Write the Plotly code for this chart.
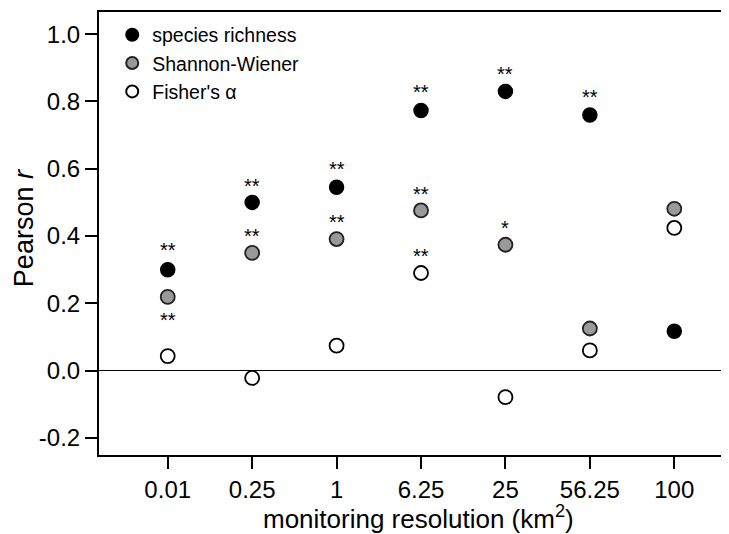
import plotly.graph_objects as go

categories = ["0.01", "0.25", "1", "6.25", "25", "56.25", "100"]
species_richness = [0.30, 0.50, 0.545, 0.773, 0.830, 0.760, 0.117]
shannon_wiener = [0.219, 0.350, 0.391, 0.476, 0.374, 0.125, 0.481]
fishers_alpha = [0.043, -0.022, 0.074, 0.290, -0.079, 0.060, 0.424]

star_x = ["0.01", "0.01", "0.25", "0.25", "1", "1", "6.25", "6.25", "6.25", "25", "25", "56.25"]
star_y = [0.369, 0.161, 0.562, 0.412, 0.612, 0.453, 0.840, 0.538, 0.352, 0.894, 0.437, 0.825]
star_text = ["**", "**", "**", "**", "**", "**", "**", "**", "**", "**", "*", "**"]

FONT = "Liberation Sans, Arial, Helvetica, sans-serif"

fig = go.Figure()
fig.add_trace(go.Scatter(
    x=categories, y=species_richness, mode="markers", name="species richness",
    marker=dict(size=14, color="black", line=dict(color="black", width=1.5)),
))
fig.add_trace(go.Scatter(
    x=categories, y=shannon_wiener, mode="markers", name="Shannon-Wiener",
    marker=dict(size=14, color="#999999", line=dict(color="#222222", width=1.8)),
))
fig.add_trace(go.Scatter(
    x=categories, y=fishers_alpha, mode="markers", name="Fisher's α",
    marker=dict(size=14, color="white", line=dict(color="black", width=1.8)),
))

for sx, sy, st in zip(star_x, star_y, star_text):
    fig.add_annotation(x=categories.index(sx), y=sy, text=st, showarrow=False,
                       yanchor="middle", yshift=-4,
                       font=dict(size=20, color="black", family=FONT))

fig.add_annotation(xref="paper", yref="paper", x=0.507, y=-0.142, xanchor="center",
                   yanchor="middle", showarrow=False, borderpad=0,
                   text="monitoring resolution (km<sup>2</sup>)",
                   font=dict(size=26, color="black", family=FONT))
fig.add_annotation(xref="paper", yref="paper", x=-0.12, y=0.513, xanchor="center",
                   yanchor="middle", showarrow=False, textangle=-90, borderpad=0,
                   text="Pearson <i>r</i>",
                   font=dict(size=27, color="black", family=FONT))

fig.update_layout(
    width=721, height=526,
    margin=dict(l=91, r=0, t=4, b=79, autoexpand=False),
    paper_bgcolor="white", plot_bgcolor="white",
    font=dict(family=FONT, color="black"),
    showlegend=True,
    legend=dict(x=0.021, y=0.992, xanchor="left", yanchor="top",
                font=dict(size=19.5, family=FONT), bgcolor="rgba(0,0,0,0)",
                tracegroupgap=0, itemsizing="constant"),
)
fig.update_xaxes(
    type="category", categoryorder="array", categoryarray=categories,
    range=[-0.814, 6.648], automargin=False,
    showline=True, linecolor="black", linewidth=2, mirror=True,
    ticks="outside", ticklen=12, tickwidth=1.5, tickcolor="black",
    tickfont=dict(size=24), showgrid=False, zeroline=False,
)
fig.update_yaxes(
    range=[-0.251, 1.066], automargin=False,
    tickvals=[-0.2, 0.0, 0.2, 0.4, 0.6, 0.8, 1.0],
    ticktext=["-0.2", "0.0", "0.2", "0.4", "0.6", "0.8", "1.0"],
    showline=True, linecolor="black", linewidth=2,
    ticks="outside", ticklen=12, tickwidth=1.5, tickcolor="black",
    tickfont=dict(size=24), showgrid=False,
    zeroline=True, zerolinecolor="black", zerolinewidth=1,
)

fig.write_html("out.html")
